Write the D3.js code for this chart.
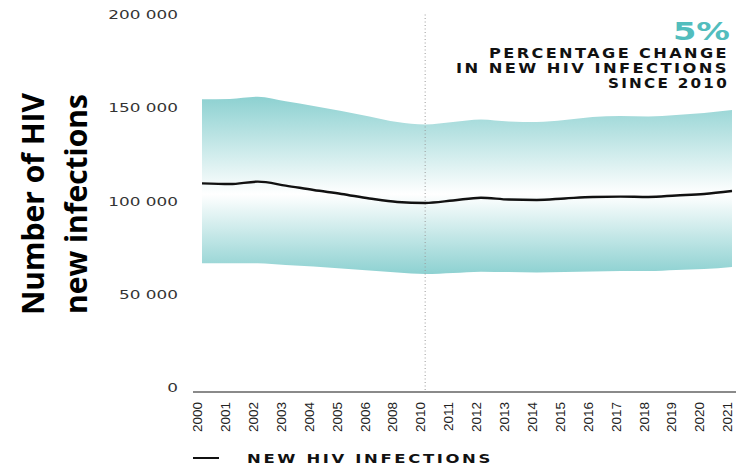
<!DOCTYPE html>
<html>
<head>
<meta charset="utf-8">
<script src="https://cdn.jsdelivr.net/npm/d3@7"></script>
<style>
  body { margin: 0; background: #fff; }
  svg { display: block; }
</style>
</head>
<body>
<div id="chart"></div>
<script>
var width = 736;
var height = 468;

// categories as printed on the axis (2007 and 2009 are not shown)
var years = ["2000", "2001", "2002", "2003", "2004", "2005", "2006", "2008", "2010", "2011",
  "2012", "2013", "2014", "2015", "2016", "2017", "2018", "2019", "2020", "2021"];
var estimate = [109600, 109200, 110500, 108400, 106000, 103900, 101500, 99600, 99100, 100400,
  101900, 100900, 100700, 101500, 102300, 102500, 102300, 103100, 103900, 105500];
var upper = [154600, 154800, 156000, 153500, 151000, 148300, 145400, 142400, 141100, 142400,
  143800, 142700, 142400, 143500, 145100, 145700, 145400, 146200, 147300, 148900];
var lower = [66800, 66800, 66800, 65900, 65000, 64000, 62900, 61800, 61000, 61600,
  62300, 62100, 61800, 62100, 62400, 62600, 62600, 63200, 63700, 64800];
var yTicks = [0, 50000, 100000, 150000, 200000];
var yTickLabels = ["0", "50 000", "100 000", "150 000", "200 000"];
var markerYear = "2010";

var rows = years.map(function (y, i) {
  return { year: y, est: estimate[i], hi: upper[i], lo: lower[i] };
});

var scalex = d3.scalePoint().domain(years).range([202, 732]);
var scaley = d3.scaleLinear().domain([0, 200000]).range([388, 14.5]);

var svg = d3.select("#chart")
  .append("svg")
  .attr("width", width)
  .attr("height", height)
  .style("background", "#fff");

// band gradient: teal at the edges, white around the estimate
var grad = svg.append("defs").append("linearGradient")
  .attr("id", "bandGrad")
  .attr("gradientUnits", "userSpaceOnUse")
  .attr("x1", 0).attr("x2", 0)
  .attr("y1", scaley(d3.max(upper)))
  .attr("y2", scaley(d3.min(lower)));
grad.append("stop").attr("offset", "0").attr("stop-color", "#8dd1d1");
grad.append("stop").attr("offset", "0.55").attr("stop-color", "#ffffff");
grad.append("stop").attr("offset", "1").attr("stop-color", "#8dd1d1");

var area = d3.area()
  .x(function (d) { return scalex(d.year); })
  .y0(function (d) { return scaley(d.lo); })
  .y1(function (d) { return scaley(d.hi); })
  .curve(d3.curveMonotoneX);

svg.append("path")
  .datum(rows)
  .attr("d", area)
  .attr("fill", "url(#bandGrad)");

// dotted marker at 2010
svg.append("line")
  .attr("x1", scalex(markerYear))
  .attr("x2", scalex(markerYear))
  .attr("y1", scaley(200000))
  .attr("y2", scaley(0) + 4)
  .attr("stroke", "#9a9a9a")
  .attr("stroke-width", 1)
  .attr("stroke-dasharray", "1,2.5");

var line = d3.line()
  .x(function (d) { return scalex(d.year); })
  .y(function (d) { return scaley(d.est); })
  .curve(d3.curveMonotoneX);

svg.append("path")
  .datum(rows)
  .attr("d", line)
  .attr("fill", "none")
  .attr("stroke", "#111")
  .attr("stroke-width", 2.4);

// x axis
var xaxis = d3.axisBottom(scalex).tickSize(0).tickPadding(0);
var gx = svg.append("g")
  .attr("transform", "translate(0," + (scaley(0) + 4) + ")")
  .call(xaxis);
gx.select(".domain")
  .attr("d", "M193,0H736")
  .attr("stroke", "#8a8a8a")
  .attr("stroke-width", 2);
gx.selectAll(".tick text")
  .attr("transform", "translate(-5,10) rotate(-90)")
  .attr("x", 0)
  .attr("y", 0)
  .attr("dy", "0.35em")
  .style("text-anchor", "end")
  .style("font-family", "'Liberation Sans', Arial, sans-serif")
  .style("font-size", "13.5px")
  .attr("fill", "#222");

// y tick labels (no axis line)
svg.selectAll(".ylab")
  .data(yTicks)
  .enter()
  .append("text")
  .attr("class", "ylab")
  .attr("transform", function (d) { return "translate(178," + scaley(d) + ") scale(1.35,1)"; })
  .attr("dy", "0.35em")
  .style("text-anchor", "end")
  .style("font-family", "'DejaVu Sans', sans-serif")
  .style("font-size", "12.5px")
  .attr("fill", "#333")
  .text(function (d, i) { return yTickLabels[i]; });

// y title
var title = svg.append("text")
  .attr("transform", "translate(0,204) rotate(-90)")
  .style("text-anchor", "middle")
  .style("font-family", "'Open Sans', sans-serif")
  .style("font-weight", "700")
  .style("font-size", "30px")
  .attr("fill", "#000");
title.append("tspan").attr("x", 0).attr("y", 44).text("Number of HIV");
title.append("tspan").attr("x", 0).attr("y", 87).text("new infections");

// annotation top right
svg.append("text")
  .attr("x", 730)
  .attr("y", 40)
  .style("text-anchor", "end")
  .style("font-family", "'DejaVu Sans', sans-serif")
  .style("font-weight", "700")
  .style("font-size", "25px")
  .attr("textLength", 57)
  .attr("lengthAdjust", "spacingAndGlyphs")
  .attr("fill", "#52bdbd")
  .text("5%");

var noteLines = [
  { t: "PERCENTAGE CHANGE", y: 58, w: 240 },
  { t: "IN NEW HIV INFECTIONS", y: 73, w: 273 },
  { t: "SINCE 2010", y: 88, w: 121 }
];
svg.selectAll(".note")
  .data(noteLines)
  .enter()
  .append("text")
  .attr("class", "note")
  .attr("x", 729)
  .attr("y", function (d) { return d.y; })
  .attr("textLength", function (d) { return d.w; })
  .attr("lengthAdjust", "spacingAndGlyphs")
  .style("text-anchor", "end")
  .style("font-family", "'DejaVu Sans', sans-serif")
  .style("font-weight", "700")
  .style("font-size", "13.5px")
  .style("letter-spacing", "2px")
  .attr("fill", "#111")
  .text(function (d) { return d.t; });

// legend
svg.append("line")
  .attr("x1", 193).attr("x2", 219)
  .attr("y1", 458).attr("y2", 458)
  .attr("stroke", "#111")
  .attr("stroke-width", 2);
svg.append("text")
  .attr("x", 247)
  .attr("y", 463)
  .attr("textLength", 246)
  .attr("lengthAdjust", "spacingAndGlyphs")
  .style("font-family", "'DejaVu Sans', sans-serif")
  .style("font-weight", "700")
  .style("font-size", "12.5px")
  .style("letter-spacing", "2px")
  .attr("fill", "#111")
  .text("NEW HIV INFECTIONS");
</script>
</body>
</html>
